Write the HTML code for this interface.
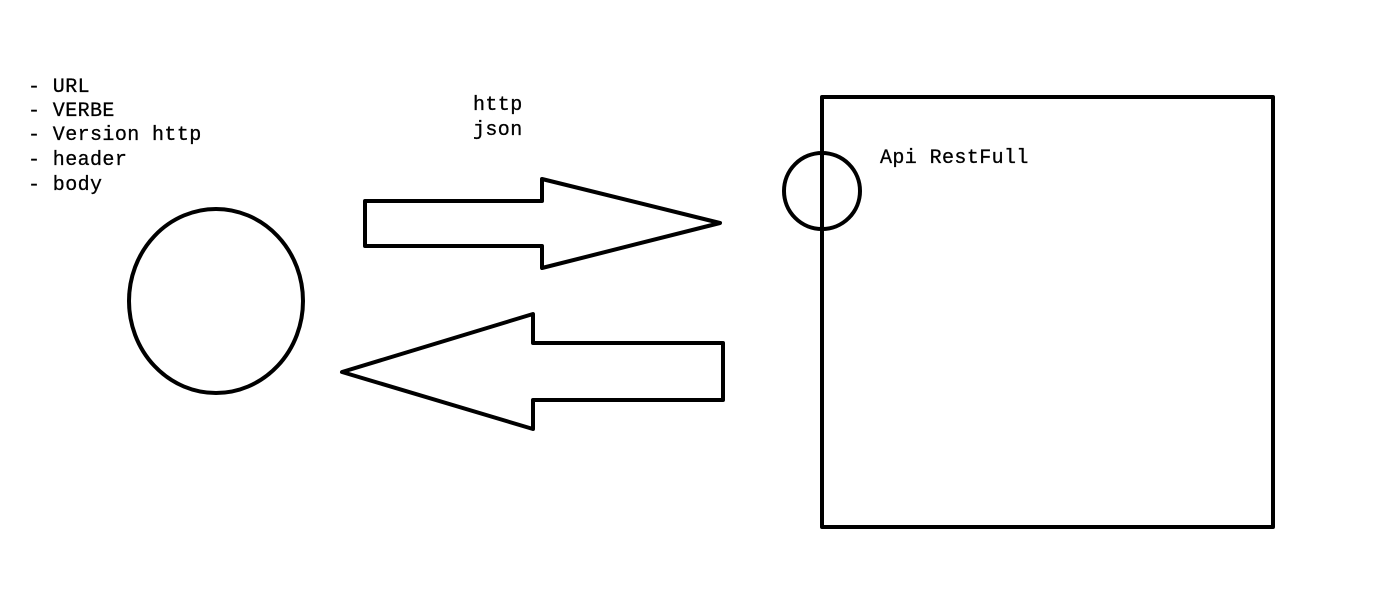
<!DOCTYPE html>
<html><head><meta charset="utf-8"><style>
html,body{margin:0;padding:0;background:#fff;}
svg{display:block;}
text{font-family:"Liberation Mono",monospace;font-size:20px;letter-spacing:0.4px;fill:#000;stroke:#000;stroke-width:0.3px;}
</style></head><body>
<svg width="1376" height="591" viewBox="0 0 1376 591">
<rect width="1376" height="591" fill="#fff"/>
<g fill="none" stroke="#000" stroke-width="4" stroke-linejoin="round">
<polygon points="365,201 542,201 542,179 720,223 542,268 542,246 365,246"/>
<polygon points="342,372 533,314 533,343 723,343 723,400 533,400 533,429"/>
<ellipse cx="216" cy="301" rx="87" ry="92"/>
<rect x="822" y="97" width="451" height="430"/>
<circle cx="822" cy="191" r="38"/>
</g>
<text x="28" y="92">- URL</text>
<text x="28" y="116">- VERBE</text>
<text x="28" y="140">- Version http</text>
<text x="28" y="165">- header</text>
<text x="28" y="190">- body</text>
<text x="473" y="110">http</text>
<text x="473" y="135">json</text>
<text x="880" y="163">Api RestFull</text>
</svg>
</body></html>
